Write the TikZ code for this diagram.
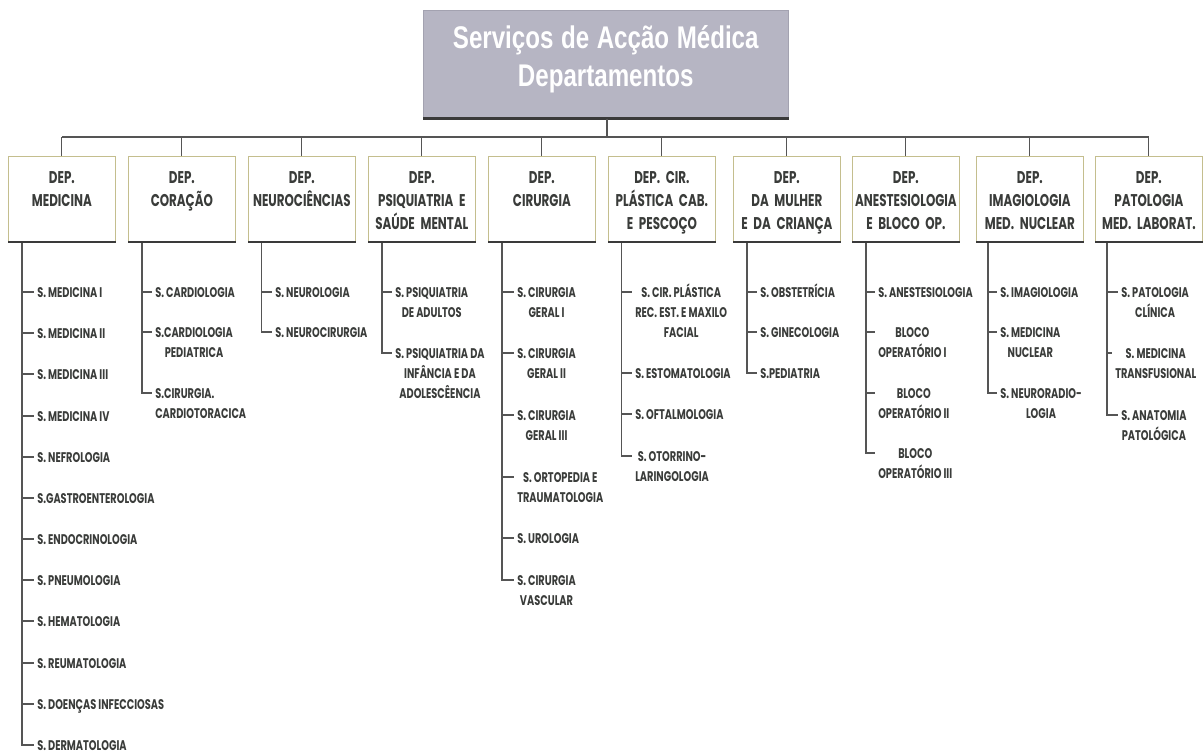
\documentclass[tikz,border=0pt]{standalone}
\usepackage{fontspec}
\usetikzlibrary{positioning}
\newfontfamily\itemfont[FakeStretch=0.7]{Poppins}
\newfontfamily\headfont[FakeStretch=0.77]{Liberation Sans}
\newcommand{\linhas}[2][c]{\begin{tabular}[t]{@{}#1@{}}#2\end{tabular}}
\newcommand{\apertado}{\spaceskip=0.22em plus 0.05em\relax}
\definecolor{textgrey}{HTML}{3A3C3A}
\definecolor{linegrey}{HTML}{555555}
\definecolor{boxline}{HTML}{C4BE8E}
\definecolor{titlefill}{HTML}{B6B5C3}
\definecolor{titleline}{HTML}{A3A2B0}
\definecolor{shadowgrey}{HTML}{3A3A3A}
\tikzset{
  titlebox/.style={draw=titleline, fill=titlefill, anchor=north west, text width=270pt,
    inner xsep=1.875pt, inner ysep=0pt, text height=28.5pt, text depth=52.5pt, align=center,
    text=white, font=\headfont\bfseries\fontsize{23.5}{28.5}\selectfont},
  depbox/.style={draw=boxline, line width=0.8pt, fill=white, anchor=north west, text width=76pt,
    inner xsep=2pt, inner ysep=0pt, text height=20.25pt, text depth=43.5pt, align=center,
    text=textgrey, font=\itemfont\bfseries\fontsize{12.75}{17.25}\selectfont},
  item/.style={anchor=west, inner xsep=2.25pt, inner ysep=0pt, text height=7.5pt, text depth=0pt,
    text=textgrey, font=\itemfont\bfseries\fontsize{10.5}{15}\selectfont},
  shadow/.style={draw=shadowgrey, line width=2pt},
}
\begin{document}
\begin{tikzpicture}[x=0.75pt,y=-0.75pt]
  \useasboundingbox (0,0) rectangle (1204,753);

  % topo
  \node[titlebox] (top) at (423,10) {\apertado Serviços de Acção Médica\\Departamentos};
  \draw[shadow] (top.south west) -- (top.south east);
  \coordinate (bar) at (607,137);

  % departamentos
  \node[depbox] (dmed) at (8,156) {DEP.\\MEDICINA};
  \node[depbox] (dcor) at (128,156) {DEP.\\CORAÇÃO};
  \node[depbox] (dneu) at (248,156) {DEP.\\NEUROCIÊNCIAS};
  \node[depbox] (dpsi) at (368,156) {DEP.\\PSIQUIATRIA E\\SAÚDE MENTAL};
  \node[depbox] (dcir) at (488,156) {DEP.\\CIRURGIA};
  \node[depbox] (dpla) at (608,156) {DEP. CIR.\\PLÁSTICA CAB.\\E PESCOÇO};
  \node[depbox] (dmul) at (733,156) {DEP.\\DA MULHER\\E DA CRIANÇA};
  \node[depbox] (dane) at (852,156) {DEP.\\ANESTESIOLOGIA\\E BLOCO OP.};
  \node[depbox] (dima) at (976,156) {DEP.\\IMAGIOLOGIA\\MED. NUCLEAR};
  \node[depbox] (dpat) at (1095,156) {DEP.\\PATOLOGIA\\MED. LABORAT.};

  % serviços
  \node[item] (med1) at (34,292) {S. MEDICINA I};
  \node[item] (med2) at (34,333) {S. MEDICINA II};
  \node[item] (med3) at (34,374) {S. MEDICINA III};
  \node[item] (med4) at (34,416) {S. MEDICINA IV};
  \node[item] (med5) at (34,457) {S. NEFROLOGIA};
  \node[item] (med6) at (34,498) {S.GASTROENTEROLOGIA};
  \node[item] (med7) at (34,539) {S. ENDOCRINOLOGIA};
  \node[item] (med8) at (34,580) {S. PNEUMOLOGIA};
  \node[item] (med9) at (34,621) {S. HEMATOLOGIA};
  \node[item] (med10) at (34,663) {S. REUMATOLOGIA};
  \node[item] (med11) at (34,704) {S. DOENÇAS INFECCIOSAS};
  \node[item] (med12) at (34,745) {S. DERMATOLOGIA};

  \node[item] (cor1) at (152,292) {S. CARDIOLOGIA};
  \node[item] (cor2) at (152,332) {\linhas{S.CARDIOLOGIA\\PEDIATRICA}};
  \node[item] (cor3) at (152,393) {\linhas[l]{S.CIRURGIA.\\CARDIOTORACICA}};

  \node[item] (neu1) at (272,292) {S. NEUROLOGIA};
  \node[item] (neu2) at (272,332) {S. NEUROCIRURGIA};

  \node[item] (psi1) at (392,292) {\linhas{S. PSIQUIATRIA\\DE ADULTOS}};
  \node[item] (psi2) at (392,353) {\linhas{S. PSIQUIATRIA DA\\INFÂNCIA E DA\\ADOLESCÊENCIA}};

  \node[item] (cir1) at (514,292) {\linhas{S. CIRURGIA\\GERAL I}};
  \node[item] (cir2) at (514,353) {\linhas{S. CIRURGIA\\GERAL II}};
  \node[item] (cir3) at (514,415) {\linhas{S. CIRURGIA\\GERAL III}};
  \node[item] (cir4) at (514,477) {\linhas{S. ORTOPEDIA E\\TRAUMATOLOGIA}};
  \node[item] (cir5) at (514,538) {S. UROLOGIA};
  \node[item] (cir6) at (514,580) {\linhas{S. CIRURGIA\\VASCULAR}};

  \node[item] (pla1) at (632,292) {\linhas{S. CIR. PLÁSTICA\\REC. EST. E MAXILO\\FACIAL}};
  \node[item] (pla2) at (632,373) {S. ESTOMATOLOGIA};
  \node[item] (pla3) at (632,414) {S. OFTALMOLOGIA};
  \node[item] (pla4) at (632,456) {\linhas{S. OTORRINO-\\LARINGOLOGIA}};

  \node[item] (mul1) at (757,292) {S. OBSTETRÍCIA};
  \node[item] (mul2) at (757,332) {S. GINECOLOGIA};
  \node[item] (mul3) at (757,373) {S.PEDIATRIA};

  \node[item] (ane1) at (875,292) {S. ANESTESIOLOGIA};
  \node[item] (ane2) at (875,332) {\linhas{BLOCO\\OPERATÓRIO I}};
  \node[item] (ane3) at (875,393) {\linhas{BLOCO\\OPERATÓRIO II}};
  \node[item] (ane4) at (875,453) {\linhas{BLOCO\\OPERATÓRIO III}};

  \node[item] (ima1) at (997,292) {S. IMAGIOLOGIA};
  \node[item] (ima2) at (997,332) {\linhas{S. MEDICINA\\NUCLEAR}};
  \node[item] (ima3) at (997,393) {\linhas{S. NEURORADIO-\\LOGIA}};

  \node[item] (pat1) at (1118,292) {\linhas{S. PATOLOGIA\\CLÍNICA}};
  \node[item] (pat2) at (1112,353) {\linhas{S. MEDICINA\\TRANSFUSIONAL}};
  \node[item] (pat3) at (1118,415) {\linhas{S. ANATOMIA\\PATOLÓGICA}};

  % ligações
  \begin{scope}[draw=linegrey, line width=0.8pt]
    \draw (top.south -| bar) -- (bar);
    \draw (dmed.north |- bar) -- (dpat.north |- bar);
    \draw (dmed.north) -- (dmed.north |- bar);
    \draw (dcor.north) -- (dcor.north |- bar);
    \draw (dneu.north) -- (dneu.north |- bar);
    \draw (dpsi.north) -- (dpsi.north |- bar);
    \draw (dcir.north) -- (dcir.north |- bar);
    \draw (dpla.north) -- (dpla.north |- bar);
    \draw (dmul.north) -- (dmul.north |- bar);
    \draw (dane.north) -- (dane.north |- bar);
    \draw (dima.north) -- (dima.north |- bar);
    \draw (dpat.north) -- (dpat.north |- bar);

    \coordinate (medsp) at ([xshift=10.5pt]dmed.south west);
    \coordinate (corsp) at ([xshift=10.5pt]dcor.south west);
    \coordinate (neusp) at ([xshift=10pt]dneu.south west);
    \coordinate (psisp) at ([xshift=10.5pt]dpsi.south west);
    \coordinate (cirsp) at ([xshift=10.5pt]dcir.south west);
    \coordinate (plasp) at ([xshift=10pt]dpla.south west);
    \coordinate (mulsp) at ([xshift=10.5pt]dmul.south west);
    \coordinate (anesp) at ([xshift=10.5pt]dane.south west);
    \coordinate (imasp) at ([xshift=9pt]dima.south west);
    \coordinate (patsp) at ([xshift=9pt]dpat.south west);

    \draw (medsp) |- (med12.west);
    \draw (medsp |- med1.west) -- (med1.west);
    \draw (medsp |- med2.west) -- (med2.west);
    \draw (medsp |- med3.west) -- (med3.west);
    \draw (medsp |- med4.west) -- (med4.west);
    \draw (medsp |- med5.west) -- (med5.west);
    \draw (medsp |- med6.west) -- (med6.west);
    \draw (medsp |- med7.west) -- (med7.west);
    \draw (medsp |- med8.west) -- (med8.west);
    \draw (medsp |- med9.west) -- (med9.west);
    \draw (medsp |- med10.west) -- (med10.west);
    \draw (medsp |- med11.west) -- (med11.west);

    \draw (corsp) |- (cor3.west);
    \draw (corsp |- cor1.west) -- (cor1.west);
    \draw (corsp |- cor2.west) -- (cor2.west);

    \draw (neusp) |- (neu2.west);
    \draw (neusp |- neu1.west) -- (neu1.west);

    \draw (psisp) |- (psi2.west);
    \draw (psisp |- psi1.west) -- (psi1.west);

    \draw (cirsp) |- (cir6.west);
    \draw (cirsp |- cir1.west) -- (cir1.west);
    \draw (cirsp |- cir2.west) -- (cir2.west);
    \draw (cirsp |- cir3.west) -- (cir3.west);
    \draw (cirsp |- cir4.west) -- (cir4.west);
    \draw (cirsp |- cir5.west) -- (cir5.west);

    \draw (plasp) |- (pla4.west);
    \draw (plasp |- pla1.west) -- (pla1.west);
    \draw (plasp |- pla2.west) -- (pla2.west);
    \draw (plasp |- pla3.west) -- (pla3.west);

    \draw (mulsp) |- (mul3.west);
    \draw (mulsp |- mul1.west) -- (mul1.west);
    \draw (mulsp |- mul2.west) -- (mul2.west);

    \draw (anesp) |- (ane4.west);
    \draw (anesp |- ane1.west) -- (ane1.west);
    \draw (anesp |- ane2.west) -- (ane2.west);
    \draw (anesp |- ane3.west) -- (ane3.west);

    \draw (imasp) |- (ima3.west);
    \draw (imasp |- ima1.west) -- (ima1.west);
    \draw (imasp |- ima2.west) -- (ima2.west);

    \draw (patsp) |- (pat3.west);
    \draw (patsp |- pat1.west) -- (pat1.west);
    \draw (patsp |- pat2.west) -- (pat2.west);
  \end{scope}

  % sombras
  \draw[shadow] (dmed.south west) -- (dmed.south east);
  \draw[shadow] (dcor.south west) -- (dcor.south east);
  \draw[shadow] (dneu.south west) -- (dneu.south east);
  \draw[shadow] (dpsi.south west) -- (dpsi.south east);
  \draw[shadow] (dcir.south west) -- (dcir.south east);
  \draw[shadow] (dpla.south west) -- (dpla.south east);
  \draw[shadow] (dmul.south west) -- (dmul.south east);
  \draw[shadow] (dane.south west) -- (dane.south east);
  \draw[shadow] (dima.south west) -- (dima.south east);
  \draw[shadow] (dpat.south west) -- (dpat.south east);
\end{tikzpicture}
\end{document}
